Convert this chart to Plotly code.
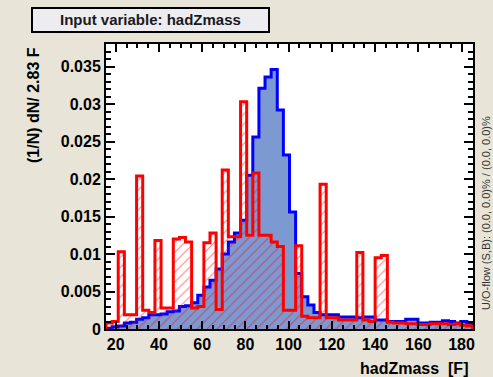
import numpy as np
import plotly.graph_objects as go

# Binning of the hadZmass input variable (60 bins, 2.83 F wide)
XMIN = 15.49
BIN_W = 2.83
N_BINS = 60

# Normalised signal distribution (1/N dN/bin)
signal = [
    0.0001, 0.0003, 0.0004, 0.0008, 0.0009, 0.0013, 0.0015, 0.0019, 0.0019, 0.0020,
    0.0023, 0.0024, 0.0030, 0.0031, 0.0035, 0.0045, 0.0056, 0.0065, 0.0080, 0.0100,
    0.0116, 0.0128, 0.0145, 0.0205, 0.0256, 0.0321, 0.0336, 0.0346, 0.0292, 0.0232,
    0.0156, 0.0074, 0.0043, 0.0032, 0.0022, 0.0019, 0.0019, 0.0019, 0.0016, 0.0016,
    0.0016, 0.0015, 0.0016, 0.0016, 0.0012, 0.0012, 0.0010, 0.0010, 0.0010, 0.0013,
    0.0013, 0.0008, 0.0008, 0.0009, 0.0009, 0.0011, 0.0010, 0.0008, 0.0010, 0.0008,
]

# Normalised background distribution (1/N dN/bin)
background = [
    0.0008, 0.0010, 0.0103, 0.0019, 0.0019, 0.0204, 0.0025, 0.0022, 0.0118, 0.0028,
    0.0028, 0.0120, 0.0122, 0.0116, 0.0028, 0.0030, 0.0115, 0.0128, 0.0026, 0.0212,
    0.0123, 0.0123, 0.0303, 0.0125, 0.0208, 0.0125, 0.0125, 0.0116, 0.0110, 0.0025,
    0.0025, 0.0111, 0.0017, 0.0015, 0.0015, 0.0193, 0.0015, 0.0015, 0.0012, 0.0012,
    0.0012, 0.0102, 0.0012, 0.0010, 0.0095, 0.0098, 0.0009, 0.0008, 0.0008, 0.0007,
    0.0007, 0.0006, 0.0006, 0.0007, 0.0007, 0.0007, 0.0006, 0.0007, 0.0005, 0.0004,
]

x_ticks = [20, 40, 60, 80, 100, 120, 140, 160, 180]
y_ticks = [0, 0.005, 0.01, 0.015, 0.02, 0.025, 0.03, 0.035]
y_tick_labels = ["0", "0.005", "0.01", "0.015", "0.02", "0.025", "0.03", "0.035"]

edges = XMIN + BIN_W * np.arange(N_BINS + 1)
XMAX = edges[-1]
YMAX = 0.038


def step_xy(vals):
    """Outline of a histogram as an hv step path closed to zero."""
    xs = [edges[0]] + list(edges)
    ys = [0.0] + list(vals) + [vals[-1]]
    xs.append(edges[-1])
    ys.append(0.0)
    return xs, ys


BG = "#e8e5d8"
FONT = "Liberation Sans"

fig = go.Figure()

sx, sy = step_xy(signal)
fig.add_trace(go.Scatter(
    x=sx, y=sy, mode="lines", line=dict(shape="hv", color="#0000ff", width=3),
    fill="tozeroy", fillcolor="#7d99d1", hoverinfo="skip", showlegend=False,
))

bx, by = step_xy(background)
fig.add_trace(go.Scatter(
    x=bx, y=by, mode="lines", line=dict(shape="hv", color="#ff0000", width=3),
    fill="tozeroy", fillcolor="rgba(0,0,0,0)",
    fillpattern=dict(shape="/", fgcolor="#ff0000", bgcolor="rgba(0,0,0,0)",
                     size=7, solidity=0.15),
    hoverinfo="skip", showlegend=False,
))

axis_common = dict(
    showgrid=False, zeroline=False, showline=True, linecolor="black", linewidth=2,
    mirror="allticks", ticks="inside", tickcolor="black", tickwidth=1.5,
    tickfont=dict(family=FONT, size=16, color="black", weight="bold"),
)

fig.update_xaxes(
    range=[XMIN, XMAX], tickvals=x_ticks, ticklen=8,
    minor=dict(dtick=5, tick0=0, ticks="inside", ticklen=4, tickcolor="black", tickwidth=1.5),
    **axis_common,
)
fig.update_yaxes(
    range=[0, YMAX], tickvals=y_ticks, ticktext=y_tick_labels, ticklen=9,
    minor=dict(dtick=0.001, tick0=0, ticks="inside", ticklen=5, tickcolor="black", tickwidth=1.5),
    **axis_common,
)

L, R, T, B = 106, 473, 44, 329
W, H = 493, 377
pw, ph = R - L, B - T


def px(xp):
    return (xp - L) / pw


def py(yp):
    return (B - yp) / ph


# Title box
fig.add_shape(type="rect", xref="paper", yref="paper",
              x0=px(32), x1=px(269), y0=py(32), y1=py(8),
              fillcolor="#ededf1", line=dict(color="black", width=2), layer="above")

annotations = [
    dict(text="Input variable: hadZmass", x=px(150), y=py(20), xanchor="center", yanchor="middle",
         font=dict(family=FONT, size=15, color="#1a1a1a", weight="bold")),
    dict(text="hadZmass  [F]", x=px(470), y=py(368), xanchor="right", yanchor="middle",
         font=dict(family=FONT, size=16, color="black", weight="bold")),
    dict(text="(1/N) dN/ 2.83 F", x=px(33), y=py(45), xanchor="center", yanchor="top",
         textangle=-90, font=dict(family=FONT, size=16, color="black", weight="bold")),
    dict(text="U/O-flow (S,B): (0.0, 0.0)% / (0.0, 0.0)%", x=px(486), y=py(213),
         xanchor="center", yanchor="middle", textangle=-90,
         font=dict(family=FONT, size=11, color="#333333")),
]
for a in annotations:
    a.update(xref="paper", yref="paper", showarrow=False)

fig.update_layout(
    width=W, height=H, autosize=False,
    margin=dict(l=L, r=W - R, t=T, b=H - B),
    paper_bgcolor=BG, plot_bgcolor="white",
    annotations=annotations,
)

fig.write_html("out.html")
